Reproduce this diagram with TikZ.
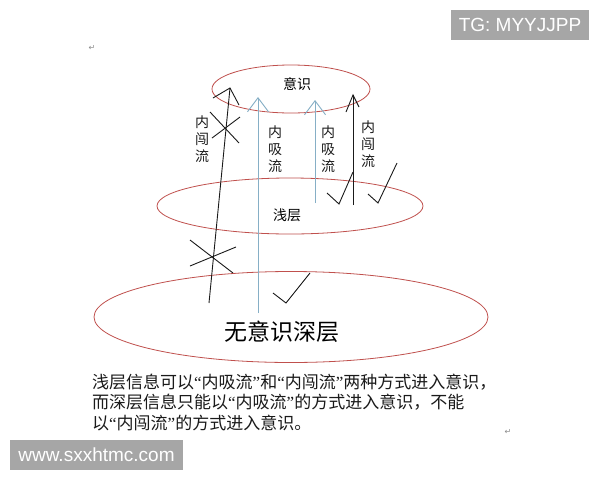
\documentclass[tikz,border=0pt]{standalone}
\usepackage{fontspec}
\setmainfont{Liberation Sans}
\newfontfamily\cjk{Noto Sans CJK SC}
\newfontfamily\dejavu{DejaVu Sans}
\newfontfamily\quotefont{Liberation Serif}
\newcommand{\zq}[1]{{\quotefont“}#1{\quotefont”}}
\usetikzlibrary{arrows.meta,shapes.geometric}
\definecolor{ellred}{HTML}{C0504D}
\definecolor{flowblue}{HTML}{86AFC6}
\definecolor{wmgray}{HTML}{A6A6A6}
\definecolor{inkblack}{HTML}{1A1A1A}
\tikzset{
  layer/.style={ellipse, draw=ellred, line width=0.8pt, inner sep=0pt},
  bluearrow/.style={draw=flowblue, line width=0.9pt, -{Straight Barb[length=14pt,width=21pt,line width=0.9pt]}},
  inkline/.style={draw=inkblack, line width=0.9pt},
  flowlabel/.style={font=\cjk\fontsize{14}{17}\selectfont, align=center, inner sep=0pt, text=inkblack},
  wmbox/.style={fill=wmgray, text=white, font=\fontsize{19}{22}\selectfont, inner sep=0pt},
  retmark/.style={font=\dejavu\fontsize{8}{8}\selectfont, text=black!45, inner sep=0pt}
}
\begin{document}
\begin{tikzpicture}[x=1pt,y=-1pt]
\useasboundingbox (0,0) rectangle (600,480);
\fill[white] (0,0) rectangle (600,480);

% layers
\node[layer, minimum width=158pt, minimum height=48pt] (top) at (291,89) {};
\node[layer, minimum width=266pt, minimum height=56pt] (mid) at (290,206) {};
\node[layer, minimum width=394pt, minimum height=91pt] (deep) at (291,317) {};
\node[inner sep=0pt, font=\cjk\fontsize{14}{14}\selectfont] (tyx) at (297,84) {意识};
\node[inner sep=0pt, font=\cjk\fontsize{14}{14}\selectfont] (tqc) at (287,215) {浅层};
\node[inner sep=0pt, font=\cjk\fontsize{23}{23}\selectfont] (tsc) at (282,332) {无意识深层};

% flow labels
\node[flowlabel] (l1) at (202,139) {内\\闯\\流};
\node[flowlabel] (l2) at (275,149) {内\\吸\\流};
\node[flowlabel] (l3) at (328,149) {内\\吸\\流};
\node[flowlabel] (l4) at (368,144) {内\\闯\\流};

% coordinates
\coordinate (b1s) at (258,313); \coordinate (b1e) at (258,97);
\coordinate (b2s) at (315,203); \coordinate (b2e) at (315,100);
\coordinate (k1s) at (209,303); \coordinate (k1e) at (230,88);
\coordinate (k1a) at (213,98);  \coordinate (k1b) at (239,105);
\coordinate (k2s) at (353,205); \coordinate (k2e) at (353,95);
\coordinate (k2a) at (346,112); \coordinate (k2b) at (359,107);
\coordinate (xa1) at (210,112); \coordinate (xa2) at (239,143);
\coordinate (xb1) at (212,138); \coordinate (xb2) at (240,117);
\coordinate (xc1) at (190,240); \coordinate (xc2) at (233,273);
\coordinate (xd1) at (190,266); \coordinate (xd2) at (236,247);
\coordinate (c1a) at (327,193); \coordinate (c1b) at (339,204); \coordinate (c1c) at (353,172);
\coordinate (c2a) at (368,194); \coordinate (c2b) at (378,203); \coordinate (c2c) at (397,163);
\coordinate (c3a) at (273,293); \coordinate (c3b) at (286,303); \coordinate (c3c) at (310,273);

% blue arrows
\draw[bluearrow] (b1s) -- (b1e);
\draw[bluearrow] (b2s) -- (b2e);

% black arrows
\draw[inkline] (k1s) -- (k1e);
\draw[inkline] (k1a) -- (k1e) -- (k1b);
\draw[inkline] (k2s) -- (k2e);
\draw[inkline] (k2a) -- (k2e) -- (k2b);

% crosses
\draw[inkline] (xa1) -- (xa2);
\draw[inkline] (xb1) -- (xb2);
\draw[inkline] (xc1) -- (xc2);
\draw[inkline] (xd1) -- (xd2);

% checks
\draw[inkline] (c1a) -- (c1b) -- (c1c);
\draw[inkline] (c2a) -- (c2b) -- (c2c);
\draw[inkline] (c3a) -- (c3b) -- (c3c);

% caption (base anchor = baseline of last line)
\node[anchor=base west, inner sep=0pt, align=left, text=inkblack,
      font=\cjk\fontsize{17}{20.5}\selectfont] (cap) at (92,429)
  {浅层信息可以\zq{内吸流}和\zq{内闯流}两种方式进入意识，\\
   而深层信息只能以\zq{内吸流}的方式进入意识，不能\\
   以\zq{内闯流}的方式进入意识。};

% return marks
\node[retmark] (r1) at (92,48) {↵};
\node[retmark] (r2) at (508,432) {↵};

% watermarks
\node[wmbox, minimum width=138pt, minimum height=30pt] (wm1) at (520,25) {TG: MYYJJPP};
\node[wmbox, minimum width=173pt, minimum height=30pt] (wm2) at (96.5,455) {www.sxxhtmc.com};
\end{tikzpicture}
\end{document}
